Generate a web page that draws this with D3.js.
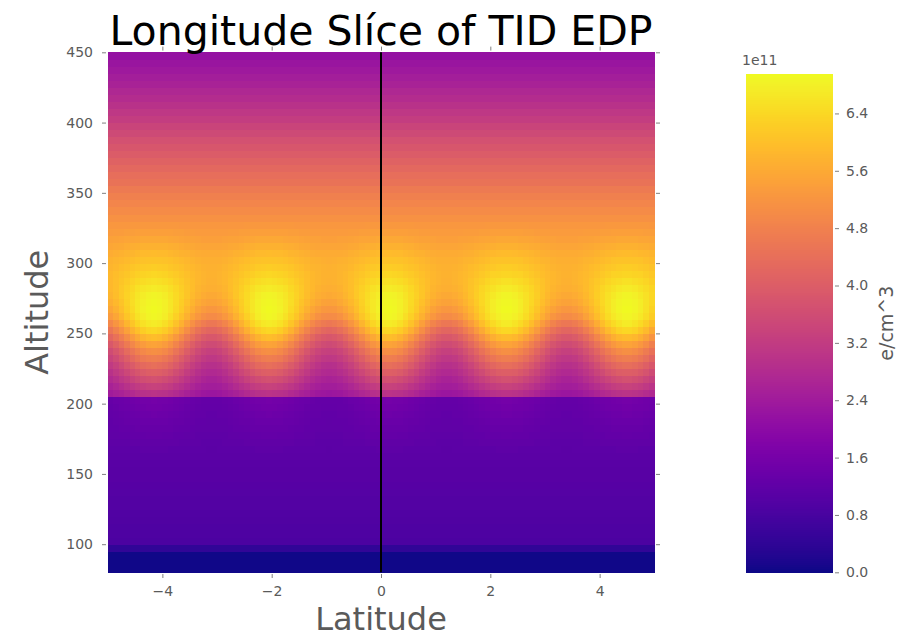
<!DOCTYPE html>
<html>
<head>
<meta charset="utf-8">
<script src="https://cdn.jsdelivr.net/npm/d3@7"></script>
<style>
  html, body { margin: 0; padding: 0; background: #fff; }
  svg { display: block; font-family: "DejaVu Sans", sans-serif; }
</style>
</head>
<body>
<svg id="chart" width="907" height="637"></svg>
<script>
// Altitude rows (km), each 5 km thick, listed by their centre
const altitudeRows = d3.range(74).map(i => 82.5 + 5 * i);

// Electron density (×1e11 e/cm^3) along a column under a TID crest, bottom row first
const crestDensity = [
  0.03, 0.03, 0.03, 0.45, 0.88, 0.90, 0.92, 0.94, 0.96, 0.98,
  1.00, 1.02, 1.04, 1.06, 1.08, 1.10, 1.13, 1.17, 1.22, 1.28,
  1.33, 1.38, 1.44, 1.50, 1.55, 3.00, 3.35, 3.70, 4.05, 4.40,
  4.75, 5.10, 5.50, 5.95, 6.40, 6.72, 6.90, 6.95, 6.92, 6.85,
  6.72, 6.55, 6.38, 6.22, 6.08, 5.92, 5.75, 5.58, 5.42, 5.28,
  5.15, 5.00, 4.90, 4.78, 4.65, 4.50, 4.38, 4.25, 4.12, 3.98,
  3.85, 3.70, 3.55, 3.40, 3.25, 3.10, 2.97, 2.84, 2.72, 2.60,
  2.48, 2.37, 2.26, 2.15
];

// Electron density (×1e11 e/cm^3) along a column between two crests, bottom row first
const troughDensity = [
  0.03, 0.03, 0.03, 0.45, 0.88, 0.90, 0.92, 0.94, 0.96, 0.98,
  1.00, 1.02, 1.04, 1.06, 1.08, 1.10, 1.12, 1.14, 1.16, 1.18,
  1.20, 1.22, 1.24, 1.26, 1.28, 2.30, 2.45, 2.60, 2.75, 2.90,
  3.10, 3.30, 3.55, 3.85, 4.20, 4.60, 5.00, 5.25, 5.45, 5.60,
  5.70, 5.75, 5.77, 5.75, 5.70, 5.62, 5.52, 5.42, 5.33, 5.24,
  5.15, 5.00, 4.90, 4.78, 4.65, 4.50, 4.38, 4.25, 4.12, 3.98,
  3.85, 3.70, 3.55, 3.40, 3.25, 3.10, 2.97, 2.84, 2.72, 2.60,
  2.48, 2.37, 2.26, 2.15
];

// Latitudes of the wave crests and of the troughs between them
const crestLatitudes = [-4.15, -2.05, 0.15, 2.3, 4.5];
const troughLatitudes = [-5.25, -3.1, -0.95, 1.2, 3.4, 5.6];

// Latitude columns, 0.1° wide, listed by their centre
const latitudeColumns = d3.range(100).map(i => -4.95 + 0.1 * i);

// Tick labels
const xTicks = [-4, -2, 0, 2, 4];
const yTicks = [100, 150, 200, 250, 300, 350, 400, 450];
const colorTicks = [0.0, 0.8, 1.6, 2.4, 3.2, 4.0, 4.8, 5.6, 6.4];
const densityMax = 6.95;

const svg = d3.select("#chart");

const plot = { left: 107.7, right: 654.3, top: 52.3, bottom: 572.3 };
const x = d3.scaleLinear().domain([-5, 5]).range([plot.left, plot.right]);
const y = d3.scaleLinear().domain([80, 450]).range([plot.bottom, plot.top]);
const color = d3.scaleSequential(d3.interpolatePlasma).domain([0, densityMax]);

// Share of the crest profile in a column: smooth taper between neighbouring crest and trough
const extremes = crestLatitudes.map(v => ({ lat: v, crest: 1 }))
  .concat(troughLatitudes.map(v => ({ lat: v, crest: 0 })))
  .sort((a, b) => a.lat - b.lat);
function crestShare(lat) {
  const i = d3.bisector(d => d.lat).right(extremes, lat);
  const a = extremes[i - 1], b = extremes[i];
  const f = (lat - a.lat) / (b.lat - a.lat);
  const s = (1 - Math.cos(Math.PI * f)) / 2;
  return a.crest * (1 - s) + b.crest * s;
}

const cells = [];
latitudeColumns.forEach(lat => {
  const w = crestShare(lat);
  altitudeRows.forEach((alt, j) => {
    cells.push({ lat, alt, v: w * crestDensity[j] + (1 - w) * troughDensity[j] });
  });
});

const cellW = x(0.1) - x(0);
const cellH = y(80) - y(85);
svg.append("g").attr("shape-rendering", "crispEdges")
  .selectAll("rect").data(cells).join("rect")
  .attr("x", d => x(d.lat - 0.05))
  .attr("y", d => y(d.alt + 2.5))
  .attr("width", cellW + 0.6)
  .attr("height", cellH + 0.6)
  .attr("fill", d => color(d.v));

// Equator marker
svg.append("line")
  .attr("x1", x(0)).attr("x2", x(0))
  .attr("y1", plot.top).attr("y2", plot.bottom)
  .attr("stroke", "#000").attr("stroke-width", 2);

// Axes: short outward ticks set slightly off the image edge
const tickColor = "#808080", labelColor = "#5a5a5a";
function styleAxis(g, showText) {
  g.select(".domain").remove();
  g.selectAll(".tick line").attr("stroke", tickColor).attr("stroke-width", 1);
  g.selectAll(".tick text").attr("fill", labelColor).style("font-size", "14px")
    .style("font-family", "DejaVu Sans").style("display", showText ? null : "none");
}
const gap = 1.7;
svg.append("g").attr("transform", `translate(0,${plot.bottom + gap})`)
  .call(d3.axisBottom(x).tickValues(xTicks).tickSize(4).tickPadding(8).tickFormat(d3.format("d")))
  .call(g => styleAxis(g, true));
svg.append("g").attr("transform", `translate(0,${plot.top - gap})`)
  .call(d3.axisTop(x).tickValues(xTicks).tickSize(4))
  .call(g => styleAxis(g, false));
svg.append("g").attr("transform", `translate(${plot.left - gap},0)`)
  .call(d3.axisLeft(y).tickValues(yTicks).tickSize(4).tickPadding(9))
  .call(g => styleAxis(g, true));
svg.append("g").attr("transform", `translate(${plot.right + gap},0)`)
  .call(d3.axisRight(y).tickValues(yTicks).tickSize(4))
  .call(g => styleAxis(g, false));

// Title and axis labels
svg.append("text").attr("x", (plot.left + plot.right) / 2).attr("y", 45)
  .attr("text-anchor", "middle").style("font-size", "41px").attr("fill", "#000")
  .text("Longitude Slíce of TID EDP");
svg.append("text").attr("x", (plot.left + plot.right) / 2).attr("y", 630)
  .attr("text-anchor", "middle").style("font-size", "32px").attr("fill", labelColor)
  .text("Latitude");
svg.append("text")
  .attr("transform", `translate(48,${(plot.top + plot.bottom) / 2}) rotate(-90)`)
  .attr("text-anchor", "middle").style("font-size", "32px").attr("fill", labelColor)
  .text("Altitude");

// Colour bar
const cb = { left: 745.7, right: 833.3, top: 74, bottom: 572.3 };
const cy = d3.scaleLinear().domain([0, densityMax]).range([cb.bottom, cb.top]);
const steps = d3.range(256).map(i => (i + 0.5) * densityMax / 256);
svg.append("g").attr("shape-rendering", "crispEdges")
  .selectAll("rect").data(steps).join("rect")
  .attr("x", cb.left).attr("width", cb.right - cb.left)
  .attr("y", d => cy(d + densityMax / 512))
  .attr("height", cy(0) - cy(densityMax / 256) + 0.6)
  .attr("fill", d => color(d));
svg.append("g").attr("transform", `translate(${cb.right + gap},0)`)
  .call(d3.axisRight(cy).tickValues(colorTicks).tickSize(4).tickPadding(7).tickFormat(d3.format(".1f")))
  .call(g => styleAxis(g, true));
svg.append("text").attr("x", 742).attr("y", 65)
  .style("font-size", "14px").attr("fill", labelColor).text("1e11");
svg.append("text")
  .attr("transform", `translate(893,${(cb.top + cb.bottom) / 2}) rotate(-90)`)
  .attr("text-anchor", "middle").style("font-size", "19px").attr("fill", labelColor)
  .text("e/cm^3");
</script>
</body>
</html>
